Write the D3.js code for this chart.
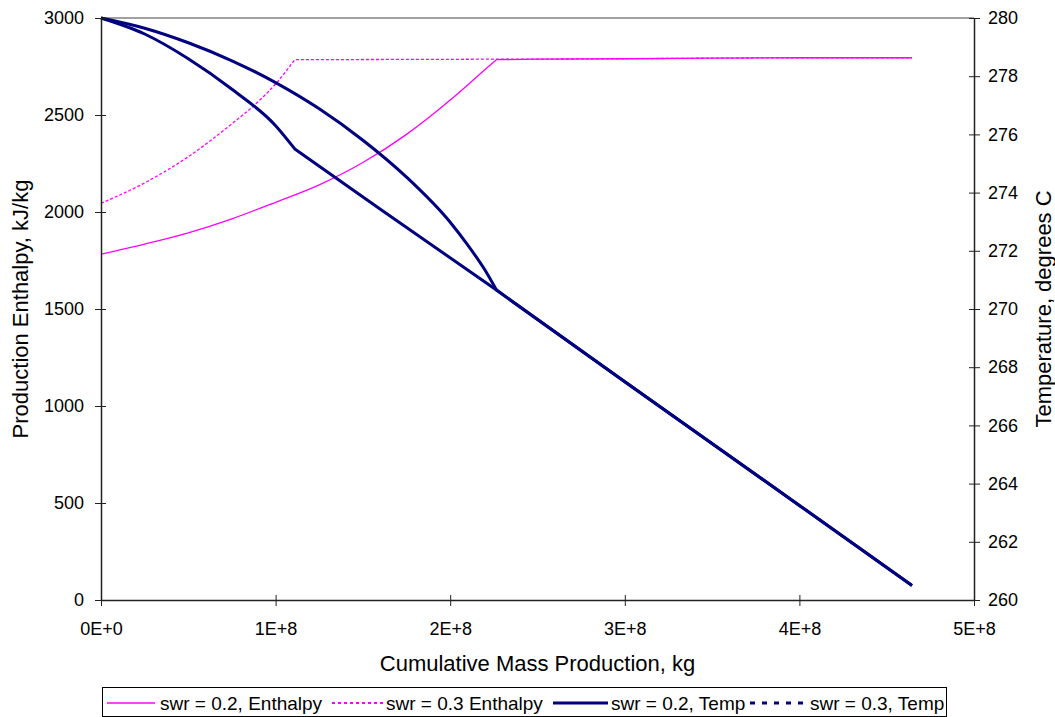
<!DOCTYPE html>
<html>
<head>
<meta charset="utf-8">
<script src="https://cdn.jsdelivr.net/npm/d3@7"></script>
<style>
  body { margin: 0; background: #fff; }
  text { font-family: "Liberation Sans", Arial, sans-serif; }
</style>
</head>
<body>
<div id="chart"></div>
<script>
  // cumulative mass (units of 1E+8 kg) and values
  var enth02X = [0, 0.25, 0.5, 0.75, 1.0, 1.25, 1.5, 1.75, 2.0, 2.1, 2.2, 2.265, 2.5, 3.0, 3.5, 4.0, 4.645];
  var enth02Y = [1783, 1835, 1893, 1965, 2050, 2140, 2255, 2400, 2577, 2655, 2735, 2785, 2788, 2790, 2793, 2795, 2795];

  var enth03X = [0, 0.25, 0.5, 0.75, 0.91, 1.0, 1.11, 1.5, 2.0, 2.265, 2.5, 3.0, 3.5, 4.0, 4.645];
  var enth03Y = [2045, 2150, 2285, 2455, 2577, 2660, 2785, 2786, 2787, 2788, 2788, 2790, 2793, 2795, 2795];

  var temp02X = [0, 0.25, 0.5, 0.75, 1.0, 1.25, 1.5, 1.75, 2.0, 2.1, 2.2, 2.265, 3.0, 4.0, 4.645];
  var temp02Y = [280, 279.65, 279.15, 278.53, 277.78, 276.88, 275.8, 274.53, 272.98, 272.2, 271.33, 270.65, 267.5, 263.25, 260.5];

  var temp03X = [0, 0.25, 0.5, 0.75, 1.0, 1.11, 1.6, 2.265, 3.0, 4.0, 4.645];
  var temp03Y = [280, 279.45, 278.6, 277.55, 276.3, 275.5, 273.43, 270.65, 267.5, 263.25, 260.5];

  // index where each curve turns into its straight/flat branch
  var kinks = {enth02: 11, enth03: 6, temp02: 11, temp03: 5};

  var seriesNames = ['swr = 0.2, Enthalpy', 'swr = 0.3 Enthalpy', 'swr = 0.2, Temp', 'swr = 0.3, Temp'];
  var xTicks = [0, 1, 2, 3, 4, 5];
  var xTickLabels = ['0E+0', '1E+8', '2E+8', '3E+8', '4E+8', '5E+8'];
  var yLeftTicks = [0, 500, 1000, 1500, 2000, 2500, 3000];
  var yRightTicks = [260, 262, 264, 266, 268, 270, 272, 274, 276, 278, 280];

  var width = 1055, height = 717;
  var margin = {top: 18, right: 81, bottom: 117, left: 101};

  var svg = d3.select('#chart')
    .append('svg')
    .attr('width', width)
    .attr('height', height);

  var x = d3.scaleLinear().domain([0, 5]).range([margin.left, width - margin.right]);
  var yL = d3.scaleLinear().domain([0, 3000]).range([height - margin.bottom, margin.top]);
  var yR = d3.scaleLinear().domain([260, 280]).range([height - margin.bottom, margin.top]);

  // plot area top border
  svg.append('line')
    .attr('x1', x(0)).attr('x2', x(5))
    .attr('y1', yL(3000)).attr('y2', yL(3000))
    .attr('stroke', '#808080').attr('stroke-width', 1.5);

  function zip(xs, ys) {
    return xs.map(function(v, i) { return [v, ys[i]]; });
  }

  // smooth part up to the kink, straight after it
  function drawSeries(xs, ys, k, yScale, style) {
    var pts = zip(xs, ys);
    var smooth = d3.line().curve(d3.curveMonotoneX)
      .x(function(d) { return x(d[0]); }).y(function(d) { return yScale(d[1]); });
    var straight = d3.line()
      .x(function(d) { return x(d[0]); }).y(function(d) { return yScale(d[1]); });
    var d = smooth(pts.slice(0, k + 1)) + straight(pts.slice(k)).replace(/^M[^L]*/, '');
    plot.append('path')
      .attr('d', d)
      .attr('fill', 'none')
      .attr('stroke', style.color)
      .attr('stroke-width', style.w)
      .attr('stroke-linejoin', 'round')
      .attr('stroke-dasharray', style.dash);
  }

  var plot = svg.append('g');

  drawSeries(enth03X, enth03Y, kinks.enth03, yL, {color: '#FF00FF', w: 1.3, dash: '3,2'});
  drawSeries(enth02X, enth02Y, kinks.enth02, yL, {color: '#FF00FF', w: 1.3, dash: null});
  drawSeries(temp03X, temp03Y, kinks.temp03, yR, {color: '#000080', w: 3, dash: null});
  drawSeries(temp02X, temp02Y, kinks.temp02, yR, {color: '#000080', w: 3, dash: null});

  // axes
  var xAxis = d3.axisBottom(x).tickValues(xTicks)
    .tickFormat(function(d, i) { return xTickLabels[i]; })
    .tickSizeInner(6).tickSizeOuter(0).tickPadding(16);
  var gx = svg.append('g')
    .attr('transform', 'translate(0,' + yL(0) + ')')
    .call(xAxis);

  var gyl = svg.append('g')
    .attr('transform', 'translate(' + x(0) + ',0)')
    .call(d3.axisLeft(yL).tickValues(yLeftTicks).tickFormat(d3.format('d'))
      .tickSizeInner(6).tickSizeOuter(0).tickPadding(11));

  var gyr = svg.append('g')
    .attr('transform', 'translate(' + x(5) + ',0)')
    .call(d3.axisRight(yR).tickValues(yRightTicks).tickFormat(d3.format('d'))
      .tickSizeInner(6).tickSizeOuter(0).tickPadding(8));

  [gx, gyl, gyr].forEach(function(g) {
    g.select('.domain').attr('stroke', '#222').attr('stroke-width', 1.5);
    g.selectAll('.tick text').style('font-size', '18px').attr('fill', '#000')
      .style('font-family', '"Liberation Sans", Arial, sans-serif');
    g.selectAll('.tick line').attr('stroke', '#222');
  });
  // cross-style tick marks
  gx.selectAll('.tick line').attr('y1', -5).attr('y2', 6);
  gyl.selectAll('.tick line').attr('x1', 5).attr('x2', -6);
  gyr.selectAll('.tick line').attr('x1', -5).attr('x2', 6);

  // axis titles
  svg.append('text')
    .attr('x', (x(0) + x(5)) / 2)
    .attr('y', 671)
    .attr('text-anchor', 'middle')
    .style('font-size', '22px')
    .text('Cumulative Mass Production, kg');

  svg.append('text')
    .attr('transform', 'translate(28,' + yL(1500) + ') rotate(-90)')
    .attr('text-anchor', 'middle')
    .style('font-size', '22px')
    .text('Production Enthalpy, kJ/kg');

  svg.append('text')
    .attr('transform', 'translate(1051,' + yL(1500) + ') rotate(-90)')
    .attr('text-anchor', 'middle')
    .style('font-size', '22px')
    .text('Temperature, degrees C');

  // legend
  var legend = svg.append('g');
  legend.append('rect')
    .attr('x', 102.5).attr('y', 687.5)
    .attr('width', 844).attr('height', 29)
    .attr('fill', '#fff').attr('stroke', '#000').attr('stroke-width', 1);

  var legendItems = [
    {name: seriesNames[0], x0: 107, x1: 155, tx: 160, color: '#FF00FF', w: 1.3, dash: null},
    {name: seriesNames[1], x0: 332, x1: 383, tx: 386, color: '#FF00FF', w: 2, dash: '3,3'},
    {name: seriesNames[2], x0: 553, x1: 608, tx: 611, color: '#000080', w: 3, dash: null},
    {name: seriesNames[3], x0: 750, x1: 806, tx: 810, color: '#000080', w: 3, dash: '5,7'}
  ];
  legendItems.forEach(function(it) {
    legend.append('line')
      .attr('x1', it.x0).attr('x2', it.x1)
      .attr('y1', 703).attr('y2', 703)
      .attr('stroke', it.color).attr('stroke-width', it.w)
      .attr('stroke-dasharray', it.dash);
    legend.append('text')
      .attr('x', it.tx).attr('y', 710)
      .style('font-size', '19px')
      .text(it.name);
  });
</script>
</body>
</html>
